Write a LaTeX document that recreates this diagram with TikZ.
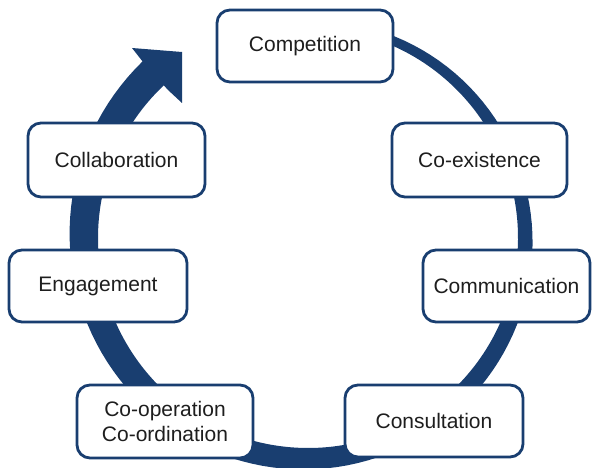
\documentclass[tikz,border=0pt]{standalone}
\usepackage{fontspec}
\setmainfont{Liberation Sans}
\definecolor{ringblue}{RGB}{25,62,112}
\definecolor{txtgray}{RGB}{30,30,30}

\begin{document}
\begin{tikzpicture}[x=1pt,y=1pt,
  stage/.style={draw=ringblue, line width=2.8pt, rounded corners=13pt, fill=white,
    text=txtgray, align=center, font=\fontsize{21}{25}\selectfont,
    minimum width=176pt, minimum height=72pt, inner sep=0pt},
  ring/.style={fill=ringblue}]

\useasboundingbox (0,0) rectangle (592,468);
\clip (0,0) rectangle (592,468);

% tapered ring, thin at the top, thick near the arrow
\fill[ring] plot[domain=-227:85, samples=120]
    ({308+(210+8+24*(85-\x)/312)*cos(\x)},{230+(210+8+24*(85-\x)/312)*sin(\x)})
  -- ({308+210*cos(85)},{230+210*sin(85)}) arc[start angle=85, end angle=-227, radius=210]
  -- cycle;
\fill[ring] (143,406) -- (132,420) -- (182,416) -- (182,365) -- (168,378) -- cycle;

\node[stage] (comp) at (305,422) {Competition};
\node[stage, minimum width=175pt, minimum height=74pt] (coexist) at (479.5,308) {Co-existence};
\node[stage, minimum width=167pt] (commun) at (506.5,182) {Communication};
\node[stage, minimum width=178pt] (consult) at (434,47) {Consultation};
\node[stage, minimum height=73pt] (coop) at (165,46.5) {Co-operation\\Co-ordination};
\node[stage, minimum width=178pt] (engage) at (98,182) {Engagement};
\node[stage, minimum width=177pt, minimum height=74pt] (collab) at (116.5,308) {Collaboration};

\end{tikzpicture}
\end{document}
